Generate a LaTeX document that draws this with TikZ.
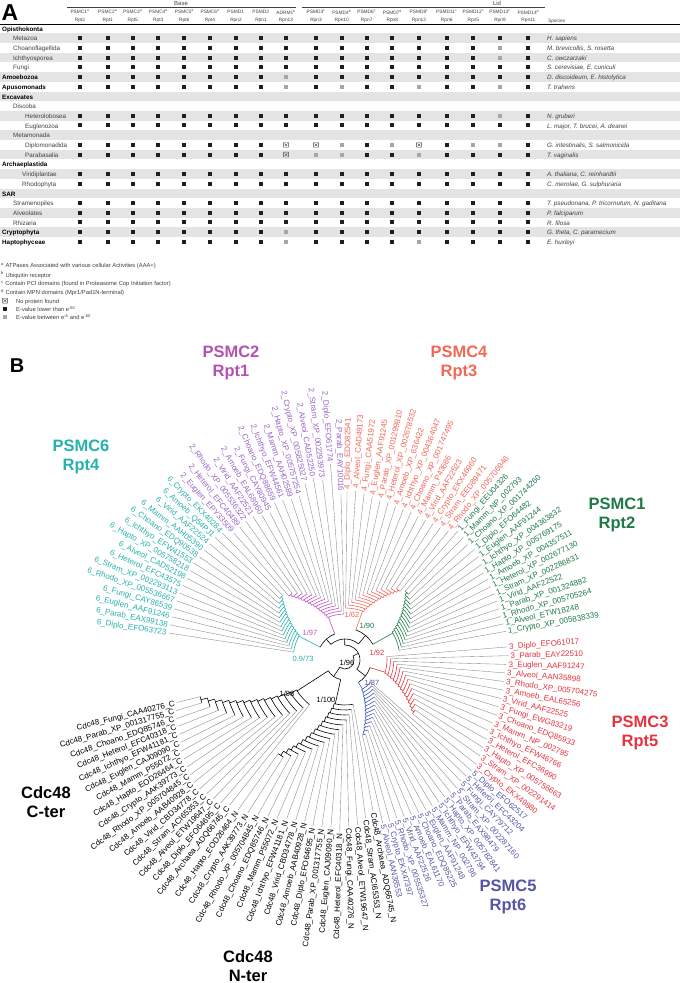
\documentclass[tikz,border=0pt]{standalone}
\usepackage{fontspec}
\setmainfont{Liberation Sans}
\newcommand\myfs[1]{\fontsize{#1}{#1}\selectfont}
\definecolor{txt}{HTML}{404040}
\definecolor{rowg}{HTML}{E4E4E4}
\definecolor{sqg}{HTML}{A6A6A6}
\definecolor{cSix}{HTML}{27B2AC}
\definecolor{cTwoB}{HTML}{C454C4}
\definecolor{cTwoL}{HTML}{9A66C4}
\definecolor{cTwoT}{HTML}{B352B3}
\definecolor{cFour}{HTML}{F06858}
\definecolor{cOne}{HTML}{1E7B48}
\definecolor{cThree}{HTML}{E5333F}
\definecolor{cFiveL}{HTML}{5656A8}
\definecolor{cFiveB}{HTML}{3B57C6}
\definecolor{termc}{HTML}{858585}
\tikzset{
  rowlab/.style={font=\myfs{6.3}, text=txt, inner sep=0pt},
  rowbold/.style={font=\bfseries\myfs{6.3}, text=black, inner sep=0pt},
  spec/.style={font=\itshape\myfs{6.3}, text=txt, inner sep=0pt},
  hdr/.style={font=\myfs{4.8}, text=txt, inner sep=0pt},
  foot/.style={font=\myfs{5.8}, text=txt, inner sep=0pt},
  leaf/.style={font=\myfs{8}, inner sep=0.5pt},
  br/.style={line width=0.6pt},
  term/.style={draw=termc, line width=0.35pt},
  ttl/.style={font=\bfseries\fontsize{16.5}{19.5}\selectfont, align=center, inner sep=0pt},
  supl/.style={font=\myfs{7.5}, inner sep=0pt},
  sqblack/.style={fill=black!88},
  sqgray/.style={fill=sqg},
  boxx/.style={draw=black!75, line width=0.4pt},
}
\def\colarr{{80,107.7,132.7,158.3,184.3,210,236,261,286,316,341.7,366.7,392.3,419,446.7,473.3,500,528.3}}
\newcommand\cellb[2]{\fill[sqblack] (#1-2,#2-2) rectangle (#1+2,#2+2);}
\newcommand\cellg[2]{\fill[sqgray] (#1-2,#2-2) rectangle (#1+2,#2+2);}
\newcommand\cellx[2]{\draw[boxx] (#1-2.4,#2-2.4) rectangle (#1+2.4,#2+2.4) (#1-1.4,#2-1.4) -- (#1+1.4,#2+1.4) (#1-1.4,#2+1.4) -- (#1+1.4,#2-1.4);}
\newcommand\rowband[1]{%
  \pgfmathsetmacro\Ry{954.5-9.7*#1}%
  \pgfmathtruncatemacro\Rodd{mod(#1,2)}%
  \ifnum\Rodd=1 \fill[rowg] (0,\Ry-4.85) rectangle (680,\Ry+4.85);\fi}
\newcommand\grow[4]{%
  \rowband{#1}%
  \node[#3,anchor=mid west] (row#1) at (#2,\Ry) {#4};}
\newcommand\trow[6]{%
  \rowband{#1}%
  \node[#3,anchor=mid west] (row#1) at (#2,\Ry) {#4};
  \node[spec,anchor=mid west] (sp#1) at (547,\Ry) {#5};
  \foreach \cc [count=\jj from 0] in {#6} {\pgfmathsetmacro\Cx{\colarr[\jj]}\csname cell\cc\endcsname{\Cx}{\Ry}}}
% clade: #1 branch colour, #2 label colour, #3 parent radius, #4 first node radius,
% #5 radius step, #6 first angle, #7 last angle, #8 number of leaves, #9 list radius/name
\newcommand\clade[9]{%
  \pgfmathsetmacro\Lstep{(#7-(#6))/(#8-1)}%
  \pgfmathsetmacro\Lmid{(#6+#7)/2}%
  \draw[br,#1] (\Lmid:#3) -- (\Lmid:#4);
  \foreach \rr/\nm [count=\kk from 0] in {#9} {%
    \pgfmathsetmacro\Lang{#6+\kk*\Lstep}%
    \pgfmathtruncatemacro\Lislast{\kk==#8-1}%
    \pgfmathsetmacro\Lrad{#4+\kk*#5}%
    \ifnum\Lislast=1
      \pgfmathsetmacro\Ltip{#4+(\kk-1)*#5}%
    \else
      \pgfmathsetmacro\Ltip{\Lrad}%
      \pgfmathsetmacro\Lrest{(#6+(\kk+1)*\Lstep+#7)/2}%
      \draw[br,#1] (\Lang:\Lrad) arc[start angle=\Lang, end angle=\Lrest, radius=\Lrad];
      \pgfmathtruncatemacro\Lpen{\kk==#8-2}%
      \ifnum\Lpen=0
        \pgfmathsetmacro\Lnext{\Lrad+#5}%
        \draw[br,#1] (\Lrest:\Lrad) -- (\Lrest:\Lnext);
      \fi
    \fi
    \pgfmathsetmacro\Llab{\rr-1.5}%
    \draw[term] (\Lang:\Ltip) -- (\Lang:\Llab);
    \pgfmathtruncatemacro\Lside{cos(\Lang)>0}%
    \ifnum\Lside=1
      \node[leaf,text=#2,anchor=mid west,rotate=\Lang] (\nm) at (\Lang:\rr) {\nm};
    \else
      \pgfmathsetmacro\Lrot{\Lang+180}%
      \node[leaf,text=#2,anchor=mid east,rotate=\Lrot] (\nm) at (\Lang:\rr) {\nm};
    \fi
  }}
\catcode`\_=12
\begin{document}
\begin{tikzpicture}[x=1pt,y=1pt]
\useasboundingbox (0,0) rectangle (680,983);
\fill[white] (0,0) rectangle (680,983);
% ---------------- Panel A ----------------
\node[font=\bfseries\myfs{23}, inner sep=0pt] (labA) at (10,970) {A};
\node[hdr,font=\myfs{6}] (base) at (181,979.5) {Base};
\node[hdr,font=\myfs{6}] (lid) at (497,979.5) {Lid};
\draw[txt, line width=0.4pt] (67,976) -- (296,976);
\draw[txt, line width=0.4pt] (302,976) -- (545,976);
\foreach \nm/\sp/\rp [count=\jj from 0] in {PSMC1/a/Rpt2,PSMC2/a/Rpt1,PSMC3/a/Rpt5,PSMC4/a/Rpt3,PSMC5/a/Rpt6,PSMC6/a/Rpt4,PSMD1//Rpn2,PSMD2//Rpn1,ADRM1/b/Rpn13,PSMD3/c/Rpn3,PSMD4/b/Rpn10,PSMD6/c/Rpn7,PSMD7/d/Rpn8,PSMD8/c/Rpn12,PSMD11/c/Rpn6,PSMD12/c/Rpn5,PSMD13/c/Rpn9,PSMD14/d/Rpn11} {
  \pgfmathsetmacro\Cx{\colarr[\jj]}
  \node[hdr] (h\jj) at (\Cx,971) {\nm\textsuperscript{\sp}};
  \node[hdr] (hr\jj) at (\Cx,963) {\rp};
}
\node[hdr,font=\itshape\myfs{4.8},anchor=mid west] (sph) at (548,963) {Species};
\draw[black,line width=0.9pt] (0,958.7) -- (680,958.7);
\grow{0}{2}{rowbold}{Opisthokonta}
\trow{1}{13}{rowlab}{Metazoa}{H. sapiens}{b,b,b,b,b,b,b,b,b,b,b,b,b,b,b,b,b,b}
\trow{2}{13}{rowlab}{Choanoflagellida}{M. brevicollis, S. rosetta}{b,b,b,b,b,b,b,b,b,b,b,b,b,b,b,b,g,b}
\trow{3}{13}{rowlab}{Ichthyosporea}{C. owczarzaki}{b,b,b,b,b,b,b,b,b,b,b,b,b,b,b,b,g,b}
\trow{4}{13}{rowlab}{Fungi}{S. cerevisiae, E. cuniculi}{b,b,b,b,b,b,b,b,b,b,b,b,b,b,b,b,b,b}
\trow{5}{2}{rowbold}{Amoebozoa}{D. discoideum, E. histolytica}{b,b,b,b,b,b,b,b,g,b,b,b,b,b,b,b,b,b}
\trow{6}{2}{rowbold}{Apusomonads}{T. trahens}{b,b,b,b,b,b,b,b,g,b,g,b,b,g,b,b,g,b}
\grow{7}{2}{rowbold}{Excavates}
\grow{8}{13}{rowlab}{Discoba}
\trow{9}{25}{rowlab}{Heterolobosea}{N. gruberi}{b,b,b,b,b,b,b,b,b,b,b,b,b,b,b,b,g,b}
\trow{10}{25}{rowlab}{Euglenozoa}{L. major, T. brucei, A. deanei}{b,b,b,b,b,b,b,b,b,b,b,b,b,b,b,b,b,b}
\grow{11}{13}{rowlab}{Metamonada}
\trow{12}{25}{rowlab}{Diplomonadida}{G. intestinalis, S. salmonicida}{b,b,b,b,b,b,b,b,x,x,g,b,g,x,b,g,g,b}
\trow{13}{25}{rowlab}{Parabasalia}{T. vaginalis}{b,b,b,b,b,b,b,b,x,g,g,b,b,g,b,b,b,b}
\grow{14}{2}{rowbold}{Archaeplastida}
\trow{15}{22}{rowlab}{Viridiplantae}{A. thaliana, C. reinhardtii}{b,b,b,b,b,b,b,b,b,b,b,b,b,b,b,b,b,b}
\trow{16}{22}{rowlab}{Rhodophyta}{C. merolae, G. sulphuraria}{b,b,b,b,b,b,b,b,b,b,b,b,b,b,b,b,b,b}
\grow{17}{2}{rowbold}{SAR}
\trow{18}{13}{rowlab}{Stramenopiles}{T. pseudonana, P. tricornutum, N. gaditana}{b,b,b,b,b,b,b,b,b,b,b,b,b,b,b,b,b,b}
\trow{19}{13}{rowlab}{Alveolates}{P. falciparum}{b,b,b,b,b,b,b,b,b,b,b,b,b,b,b,b,b,b}
\trow{20}{13}{rowlab}{Rhizaria}{R. filosa}{b,b,b,b,b,b,b,b,b,b,b,b,b,b,b,b,b,b}
\trow{21}{2}{rowbold}{Cryptophyta}{G. theta, C. paramecium}{b,b,b,b,b,b,b,b,g,b,b,b,b,b,b,b,b,b}
\trow{22}{2}{rowbold}{Haptophyceae}{E. huxleyi}{b,b,b,b,b,b,b,b,g,b,b,b,b,g,b,b,b,b}
% footnotes
\node[foot,anchor=mid west] (f1) at (1,718) {\textsuperscript{a} ATPases Associated with various cellular Activities (AAA+)};
\node[foot,anchor=mid west] (f2) at (1,708.5) {\textsuperscript{b} Ubiquitin receptor};
\node[foot,anchor=mid west] (f3) at (1,699.7) {\textsuperscript{c} Contain PCI domains (found in Proteasome Cop Initiation factor)};
\node[foot,anchor=mid west] (f4) at (1,690.7) {\textsuperscript{d} Contain MPN domains (Mpr1/Pad1N-terminal)};
\cellx{5}{682.3}
\node[foot,anchor=mid west] (f5) at (16,682.3) {No protein found};
\cellb{5}{674}
\node[foot,anchor=mid west] (f6) at (16,674) {E-value lower than e\textsuperscript{-60}};
\cellg{5}{665.7}
\node[foot,anchor=mid west] (f7) at (16,665.7) {E-value between e\textsuperscript{-6} and e\textsuperscript{-60}};
% ---------------- Panel B ----------------
\node[font=\bfseries\myfs{20}, inner sep=0pt] (labB) at (17,617) {B};
\begin{scope}[shift={(345,323)}]
\draw[br] (26.5:9) arc[start angle=26.5,end angle=-124.8,radius=9];
\draw[br] (26.5:9) -- (26.5:15);
\draw[br] (-124.8:9) -- (-124.8:20);
\draw[br] (-38:15) arc[start angle=-38,end angle=90.95,radius=15];
\draw[br] (90.95:15) -- (90.95:21);
\draw[br] (-38:15) -- (-38:26);
\draw[br] (50.1:21) arc[start angle=50.1,end angle=132,radius=21];
\draw[br] (132:21) -- (132:28);
\draw[br] (50.1:21) -- (50.1:32);
\draw[br] (111.3:28) arc[start angle=111.3,end angle=152.65,radius=28];
\draw[br] (29.45:32) arc[start angle=29.45,end angle=70.3,radius=32];
\draw[br] (-59.1:26) arc[start angle=-59.1,end angle=-16.95,radius=26];
\draw[br] (212.85:20) arc[start angle=212.85,end angle=257.5,radius=20];
\clade{cSix}{cSix}{28}{52}{2.9}{171.3}{134}{15}{180/6_Diplo_EFO63723,180/6_Parab_EAX99138,180/6_Euglen_AAF91246,180/6_Fungi_CAY86539,180/6_Rhodo_XP_005536667,180/6_Stram_XP_002293113,180/6_Heterol_EFC43575,179/6_Alveol_CAD52198,180/6_Hapto_XP_005758218,181/6_Ichthyo_EFW41553,180/6_Choano_EDQ90538,180/6_Mamm_AAH05390,180/6_Virid_AAF22524,180/6_Amoeb_Q54PJ1,178/6_Crypto_EKX40284}
\clade{cTwoB}{cTwoL}{28}{46}{3}{91.4}{131.2}{15}{168/2_Parab_EAY10016,198/2_Diplo_EFO61774,183/2_Stram_XP_002293973,186/2_Alveol_CAD52250,183/2_Crypto_XP_005825027,172/2_Hapto_XP_005757254,171/2_Mamm_AAH02589,173/2_Ichthyo_EFW44561,174/2_Choano_EDQ88659,167/2_Fungi_CAY80945,168/2_Amoeb_EAL68960,172/2_Virid_AAF22521,172/2_Rhodo_XP_005536322,171/2_Heterol_EFC40489,170/2_Euglen_EPY33509}
\clade{cFour}{cFour}{32}{52}{3}{89.3}{51.3}{14}{170/4_Diplo_EDO82541,171/4_Alveol_CAD49173,169/4_Fungi_CAA51972,167/4_Euglen_AAF91245,165/4_Parab_XP_001299810,165/4_Heterol_XP_002678532,163/4_Amoeb_XP_636422,163/4_Ichthyo_XP_004364047,164/4_Choano_XP_001747495,163/4_Mamm_P43686,163/4_Virid_AAF22523,164/4_Crypto_EKX46960,165/4_Stram_EED89471,167/4_Rhodo_XP_005706946}
\clade{cOne}{cOne}{32}{55}{2.8}{10.1}{48.8}{15}{165/1_Crypto_XP_005838339,164/1_Alveol_ETW18248,163/1_Rhodo_XP_005705264,164/1_Parab_XP_001324882,165/1_Virid_AAF22522,165/1_Stram_XP_002286831,165/1_Heterol_XP_002677130,166/1_Amoeb_XP_004357511,165/1_Hapto_XP_005769175,168/1_Ichthyo_XP_004363832,170/1_Euglen_AAF91244,172/1_Diplo_EFO64482,170/1_Choano_XP_001744260,172/1_Mamm_NP_002793,173/1_Fungi_EEU04326}
\clade{cThree}{cThree}{26}{42}{3.4}{4.6}{-38.5}{15}{164/3_Diplo_EFO61017,165/3_Parab_EAY22510,163/3_Euglen_AAF91247,162/3_Alveol_AAN35898,162/3_Rhodo_XP_005704275,163/3_Amoeb_EAL65256,162/3_Virid_AAF22525,162/3_Fungi_EWG83219,163/3_Choano_EDQ85933,162/3_Mamm_NP_002795,161/3_Ichthyo_EFW46766,164/3_Heterol_EFC36990,165/3_Hapto_XP_005756663,167/3_Stram_XP_002291414,169/3_Crypto_EKX49880}
\clade{cFiveB}{cFiveL}{26}{34}{3.3}{-41.2}{-77}{15}{170/5_Diplo_EFO62517,169/5_Heterol_EFC43204,169/5_Fungi_CAY79712,172/5_Stram_XP_002287160,171/5_Parab_EAX98479,171/5_Hapto_XP_005782841,172/5_Ichthyo_EFW43794,172/5_Mamm_NP_002796,172/5_Euglen_AAF91248,171/5_Choano_EDQ85225,170/5_Amoeb_EAL61170,169/5_Virid_AAF22526,168/5_Rhodo_XP_005535327,169/5_Crypto_EKX47397,169/5_Alveol_AAN38553}
\clade{black}{black}{20}{57}{6.6}{231.5}{194.2}{16}{187/Cdc48_Archaea_ADQ66745_C,191/Cdc48_Diplo_EFO64695_C,193/Cdc48_Alveol_ETW19647_C,194/Cdc48_Stram_ACI65353_C,196/Cdc48_Virid_CBD34778_C,196/Cdc48_Amoeb_AAB40928_C,194/Cdc48_Rhodo_XP_005704845_C,192/Cdc48_Crypto_AAK39773_C,191/Cdc48_Hapto_EOD26464_C,189/Cdc48_Mamm_P55072_C,185/Cdc48_Euglen_CAJ09090_C,183/Cdc48_Ichthyo_EFW41181_C,181/Cdc48_Heterol_EFC40318_C,180/Cdc48_Choano_EDQ85746_C,178/Cdc48_Parab_XP_001317755_C,175/Cdc48_Fungi_CAA40276_C}
\clade{black}{black}{20}{45}{5}{280.5}{234.5}{16}{155/Cdc48_Archaea_ADQ66745_N,161/Cdc48_Stram_ACI65353_N,167/Cdc48_Alveol_ETW19647_N,168/Cdc48_Fungi_CAA40276_N,173/Cdc48_Heterol_EFC40318_N,169/Cdc48_Euglen_CAJ09090_N,170/Cdc48_Parab_XP_001317755_N,171/Cdc48_Diplo_EFO64695_N,168/Cdc48_Amoeb_AAB40928_N,169/Cdc48_Virid_CBD34778_N,171/Cdc48_Ichthyo_EFW41181_N,174/Cdc48_Mamm_P55072_N,176/Cdc48_Choano_EDQ85746_N,179/Cdc48_Rhodo_XP_005704845_N,183/Cdc48_Crypto_AAK39773_N,186/Cdc48_Hapto_EOD26464_N}
\end{scope}
% support values
\node[supl,text=cSix] (s6) at (303,324) {0.9/73};
\node[supl,text=cTwoB] (s2) at (310,350) {1/97};
\node[supl,text=cFour] (s4) at (352,368) {1/62};
\node[supl,text=cOne] (s1) at (367,357) {1/90};
\node[supl,text=cThree] (s3) at (377,330) {1/92};
\node[supl,text=cFiveL] (s5) at (372,300) {1/87};
\node[supl] (sroot) at (347,320) {1/96};
\node[supl] (sC) at (287,289) {1/98};
\node[supl] (sN) at (326,283) {1/100};
% titles
\node[ttl,text=cTwoT] (t2) at (231,620) {PSMC2\\Rpt1};
\node[ttl,text=cFour] (t4) at (459,620) {PSMC4\\Rpt3};
\node[ttl,text=cOne] (t1) at (617,468) {PSMC1\\Rpt2};
\node[ttl,text=cThree] (t3) at (640,250) {PSMC3\\Rpt5};
\node[ttl,text=cFiveL] (t5) at (508,86) {PSMC5\\Rpt6};
\node[ttl,text=cSix] (t6) at (81,526) {PSMC6\\Rpt4};
\node[ttl] (tC) at (46,181) {Cdc48\\C-ter};
\node[ttl] (tN) at (248,17) {Cdc48\\N-ter};
\end{tikzpicture}
\end{document}
